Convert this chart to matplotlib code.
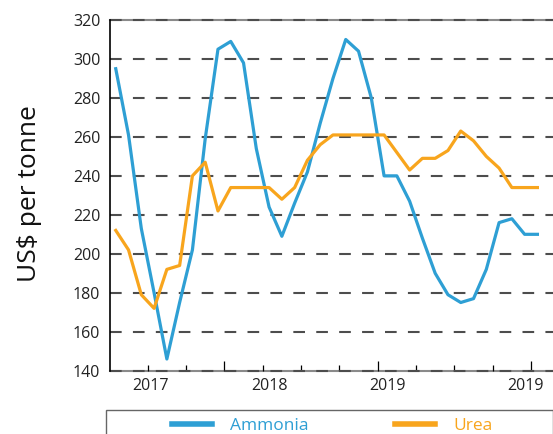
import matplotlib
matplotlib.use('Agg')
import matplotlib.pyplot as plt
from matplotlib.patches import Rectangle

plt.rcParams['font.family'] = ['Open Sans', 'DejaVu Sans']

# monthly prices, US$ per tonne
ammonia = [295, 261, 213, 180, 146, 175, 202, 259, 305, 309, 298, 254,
           224, 209, 226, 242, 267, 290, 310, 304, 280, 240, 240, 227,
           208, 190, 179, 175, 177, 192, 216, 218, 210, 210]
urea = [212, 202, 179, 172, 192, 194, 240, 247, 222, 234, 234, 234,
        234, 228, 234, 248, 256, 261, 261, 261, 261, 261, 252, 243,
        249, 249, 253, 263, 258, 250, 244, 234, 234, 234]
months = list(range(len(ammonia)))

year_labels = ['2017', '2018', '2019', '2019']
year_label_pos = [2.7, 12.05, 21.3, 32.05]
quarter_ticks = [2.5, 5.5, 11.5, 14.5, 17.5, 23.5, 26.5, 29.5]
year_ticks = [8.5, 20.5, 32.5]

blue = '#2e9fd4'
orange = '#f8a51d'

fig = plt.figure(figsize=(5.53, 4.34), dpi=100)
ax = fig.add_axes([110/553, 63.3/434, 443/553, 350.7/434])

ax.plot(months, ammonia, color=blue, lw=2.3, label='Ammonia', zorder=3)
ax.plot(months, urea, color=orange, lw=2.3, label='Urea', zorder=3)

ax.set_xlim(-0.45, 34.22)
ax.set_ylim(140, 320)
ax.set_yticks(range(140, 321, 20))

# solid grey lines under the dashed grid at top and bottom
for yv in (140, 320):
    ax.axhline(yv, color='#8a8a8a', lw=1.5, zorder=0.3, clip_on=False)
ax.yaxis.grid(True, color='#4d4d4d', lw=1.5, linestyle=(0, (5.6, 5.4)))
for gl in ax.get_ygridlines():
    gl.set_clip_on(False)

for s in ['top', 'bottom', 'right']:
    ax.spines[s].set_visible(False)
ax.spines['left'].set_color('black')
ax.spines['left'].set_linewidth(1.2)

ax.set_xticks(year_ticks)
ax.set_xticks(quarter_ticks, minor=True)
ax.set_xticklabels([])
ax.tick_params(axis='x', which='major', direction='in', length=7, width=0.9, color='black')
ax.tick_params(axis='x', which='minor', direction='in', length=4, width=0.9, color='black')
ax.tick_params(axis='y', length=0, pad=7, labelsize=11.5, labelcolor='#222222')

for lab, xp in zip(year_labels, year_label_pos):
    ax.text(xp, -0.044, lab, transform=ax.get_xaxis_transform(),
            ha='center', va='center', fontsize=11.5, color='#222222')

fig.text(30/553, 0.555, 'US$ per tonne', rotation=90, ha='center', va='center',
         fontsize=19, color='#111111')

# legend box, cut by the bottom edge
fig.patches.append(Rectangle((106/553, -0.2), 447/553, 0.2 + (434-409.7)/434,
                             transform=fig.transFigure, fill=False,
                             edgecolor='#666666', lw=1.0))
leg = fig.legend(loc='center left', bbox_to_anchor=(172/553, (434-426)/434),
                 ncol=2, frameon=False, fontsize=12.5, handlelength=2.3,
                 handletextpad=1.05, columnspacing=5.0, borderpad=0,
                 borderaxespad=0)
for line in leg.get_lines():
    line.set_linewidth(4)
for txt, c in zip(leg.get_texts(), [blue, orange]):
    txt.set_color(c)

plt.savefig('out.png', dpi=100)
